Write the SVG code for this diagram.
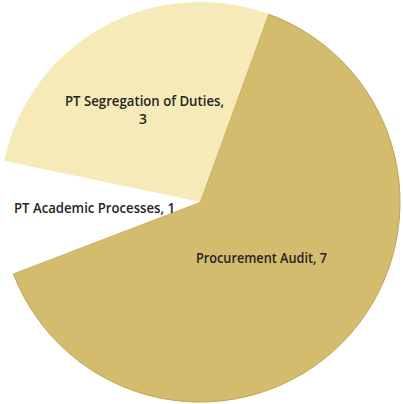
<svg xmlns="http://www.w3.org/2000/svg" width="403" height="404" viewBox="0 0 403 404">
<style>
.lbl{font-family:"Open Sans","Liberation Sans",sans-serif;font-size:14px;font-weight:600;fill:#26241f}
</style>
<rect width="403" height="404" fill="#ffffff"/>
<g id="slice-procurement">
<path d="M200,202 L268.4,14.1 A200,200 0 1 1 13.2,273.4 Z" fill="#d4bc6e" stroke="#bfa555" stroke-width="1"/>
</g>
<g id="slice-segregation">
<path d="M200,202 L4.2,161 A200,200 0 0 1 268.4,14.1 Z" fill="#f5eab8"/>
</g>
<g id="slice-academic">
<path d="M200,202 L13.2,273.4 A200,200 0 0 1 4.2,161 Z" fill="#ffffff"/>
</g>
<g id="labels">
<text class="lbl" x="65" y="106" textLength="159" lengthAdjust="spacingAndGlyphs">PT Segregation of Duties,</text>
<text class="lbl" x="143" y="124" text-anchor="middle">3</text>
<text class="lbl" x="14" y="213" textLength="161" lengthAdjust="spacingAndGlyphs">PT Academic Processes, 1</text>
<text class="lbl" x="196" y="263" textLength="131" lengthAdjust="spacingAndGlyphs">Procurement Audit, 7</text>
</g>
</svg>
